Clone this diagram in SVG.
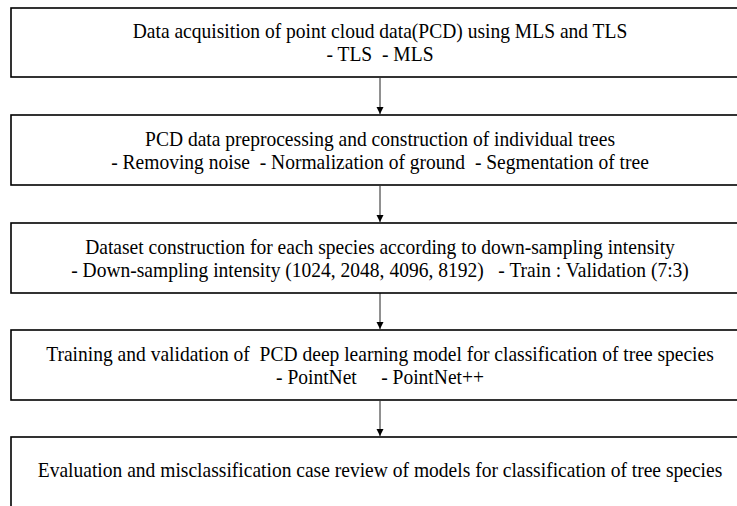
<svg xmlns="http://www.w3.org/2000/svg" width="737" height="506" viewBox="0 0 737 506">
<style>
.box{fill:#fff;stroke:#000;stroke-width:1.6}
.t{font-family:"Liberation Serif","Times New Roman",serif;font-size:21px;fill:#000;text-anchor:middle;white-space:pre}
.c{stroke:#222;stroke-width:1;fill:none}
</style>
<defs>
<marker id="ah" markerWidth="8" markerHeight="8" refX="7" refY="4" orient="auto" markerUnits="userSpaceOnUse">
<path d="M0,0.5 L7,4 L0,7.5 Z" fill="#000"/>
</marker>
</defs>
<rect width="737" height="506" fill="#fff"/>
<g id="connectors">
<line class="c" x1="380" y1="78" x2="380" y2="114" marker-end="url(#ah)"/>
<line class="c" x1="380" y1="186" x2="380" y2="222" marker-end="url(#ah)"/>
<line class="c" x1="380" y1="293" x2="380" y2="329" marker-end="url(#ah)"/>
<line class="c" x1="380" y1="401" x2="380" y2="436" marker-end="url(#ah)"/>
</g>
<g id="n1">
<rect class="box" x="11" y="8" width="740" height="69"/>
<text class="t" font-family="Liberation Serif, serif" transform="translate(380,38) scale(0.93,1)">Data acquisition of point cloud data(PCD) using MLS and TLS</text>
<text class="t" font-family="Liberation Serif, serif" transform="translate(380,61) scale(0.93,1)">- TLS  - MLS</text>
</g>
<g id="n2">
<rect class="box" x="11" y="115" width="740" height="70"/>
<text class="t" font-family="Liberation Serif, serif" transform="translate(380,146) scale(0.93,1)">PCD data preprocessing and construction of individual trees</text>
<text class="t" font-family="Liberation Serif, serif" transform="translate(380,169) scale(0.93,1)">- Removing noise  - Normalization of ground  - Segmentation of tree</text>
</g>
<g id="n3">
<rect class="box" x="11" y="223" width="740" height="70"/>
<text class="t" font-family="Liberation Serif, serif" transform="translate(380,254) scale(0.93,1)">Dataset construction for each species according to down-sampling intensity</text>
<text class="t" font-family="Liberation Serif, serif" transform="translate(380,277) scale(0.93,1)">- Down-sampling intensity (1024, 2048, 4096, 8192)   - Train : Validation (7:3)</text>
</g>
<g id="n4">
<rect class="box" x="11" y="330" width="740" height="70"/>
<text class="t" font-family="Liberation Serif, serif" transform="translate(380,361) scale(0.93,1)">Training and validation of  PCD deep learning model for classification of tree species</text>
<text class="t" font-family="Liberation Serif, serif" transform="translate(380,384) scale(0.93,1)">- PointNet     - PointNet++</text>
</g>
<g id="n5">
<rect class="box" x="11" y="437" width="740" height="90"/>
<text class="t" font-family="Liberation Serif, serif" transform="translate(380,477) scale(0.93,1)">Evaluation and misclassification case review of models for classification of tree species</text>
</g>
</svg>
